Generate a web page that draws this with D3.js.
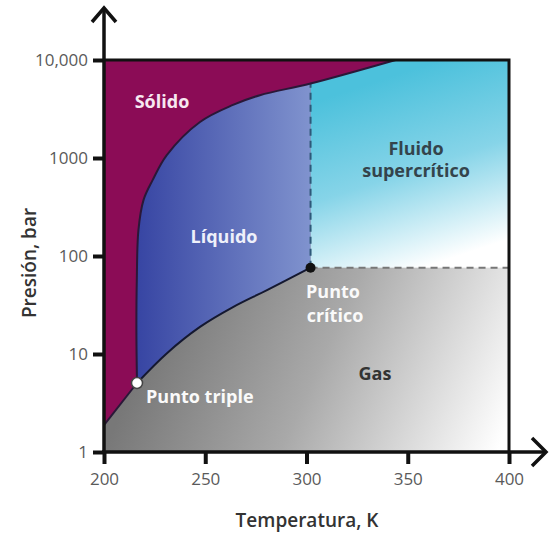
<!DOCTYPE html>
<html lang="es">
<head>
<meta charset="utf-8">
<title>Diagrama de fases</title>
<script src="https://cdn.jsdelivr.net/npm/d3@7"></script>
<style>
  body { margin: 0; background: #fff; }
  svg text { font-family: "Open Sans", "Noto Sans", sans-serif; }
  .tick-label { font-size: 17px; fill: #5a5a5a; }
  .axis-title { font-size: 19px; font-weight: 600; fill: #333; }
  .region { font-size: 18px; font-weight: 700; }
</style>
</head>
<body>
<div id="chart"></div>
<script>
// axis ticks
var tempTicks = [200, 250, 300, 350, 400];
var presTicks = [1, 10, 100, 1000, 10000];
var presLabels = ["1", "10", "100", "1000", "10,000"];

// phase boundaries (T in K, P in bar)
var sublimT = [200, 216.3];
var sublimP = [1.88, 5.06];
var meltT = [216.3, 216.0, 216.2, 217.0, 219.5, 224.0, 231.0, 247.4, 263.7, 277.0, 302.0, 344.0];
var meltP = [5.06, 17.5, 57, 184, 372, 594, 1070, 2330, 3480, 4370, 5750, 10000];
var vapT = [216.3, 231.1, 247.4, 263.7, 280.5, 302.0];
var vapP = [5.06, 10.2, 18.9, 30.1, 44.9, 76];

var triple = {T: 216.3, P: 5.06};
var critical = {T: 302.0, P: 76};

var W = 552, H = 533;
var x = d3.scaleLinear().domain([200, 400]).range([104, 509]);
var y = d3.scaleLog().domain([1, 10000]).range([452, 60]);

var svg = d3.select("#chart").append("svg")
    .attr("width", W).attr("height", H);

var defs = svg.append("defs");

function grad(id, x1, y1, x2, y2, stops) {
    var g = defs.append("linearGradient").attr("id", id)
        .attr("gradientUnits", "userSpaceOnUse")
        .attr("x1", x1).attr("y1", y1).attr("x2", x2).attr("y2", y2);
    stops.forEach(function(s) {
        g.append("stop").attr("offset", s[0]).attr("stop-color", s[1]);
    });
}
grad("gasGrad", 170, 300, 500, 445, [[0, "#787878"], [0.45, "#a9a9a9"], [1, "#ffffff"]]);
grad("scGrad", 380, 80, 440, 262, [[0, "#4cc1dc"], [0.5, "#86d4e8"], [1, "#ffffff"]]);
grad("liqGrad", x(triple.T), 0, x(critical.T), 0, [[0, "#3745a3"], [1, "#8093ce"]]);

function pts(T, P) {
    return T.map(function(t, i) { return [x(t), y(P[i])]; });
}
var curve = d3.line().curve(d3.curveCatmullRom.alpha(0.5));
var straight = d3.line();

// gas: whole plot as background
svg.append("rect")
    .attr("x", x(200)).attr("y", y(10000))
    .attr("width", x(400) - x(200)).attr("height", y(1) - y(10000))
    .attr("fill", "url(#gasGrad)");

// supercritical fluid
svg.append("rect")
    .attr("x", x(critical.T)).attr("y", y(10000))
    .attr("width", x(400) - x(critical.T)).attr("height", y(critical.P) - y(10000))
    .attr("fill", "url(#scGrad)");

// liquid (top part is covered by the solid)
var liqPath = curve(pts(vapT, vapP)) +
    "L" + x(critical.T) + "," + y(10000) +
    "L" + x(200) + "," + y(10000) +
    "L" + x(200) + "," + y(triple.P) + "Z";
svg.append("path").attr("d", liqPath).attr("fill", "url(#liqGrad)");

// solid
var meltPts = pts(meltT, meltP);
var solidPath = "M" + x(200) + "," + y(sublimP[0]) +
    "L" + x(triple.T) + "," + y(triple.P) +
    curve(meltPts).replace(/^M[^C]*/, "") +
    "L" + x(200) + "," + y(10000) + "Z";
svg.append("path").attr("d", solidPath).attr("fill", "#8b0c56");

// dashed lines from the critical point
svg.append("line")
    .attr("x1", x(critical.T)).attr("y1", y(critical.P))
    .attr("x2", x(critical.T)).attr("y2", y(meltP[10]))
    .attr("stroke", "#2e5878").attr("stroke-width", 2)
    .attr("stroke-dasharray", "7,5");
svg.append("line")
    .attr("x1", x(critical.T)).attr("y1", y(critical.P))
    .attr("x2", x(400)).attr("y2", y(critical.P))
    .attr("stroke", "#777").attr("stroke-width", 2)
    .attr("stroke-dasharray", "7,5");

// boundary curves
svg.append("path").attr("d", straight(pts(sublimT, sublimP)))
    .attr("fill", "none").attr("stroke", "#2a1838").attr("stroke-width", 2);
svg.append("path").attr("d", curve(meltPts))
    .attr("fill", "none").attr("stroke", "#2a1838").attr("stroke-width", 2);
svg.append("path").attr("d", curve(pts(vapT, vapP)))
    .attr("fill", "none").attr("stroke", "#141830").attr("stroke-width", 2);

// plot frame (top and right)
svg.append("path")
    .attr("d", "M" + x(200) + "," + y(10000) + "H" + x(400) + "V" + y(1))
    .attr("fill", "none").attr("stroke", "#111").attr("stroke-width", 3);

// axes
var yAxis = d3.axisLeft(y).tickValues(presTicks)
    .tickFormat(function(d, i) { return presLabels[i]; })
    .tickSize(11).tickPadding(5);
var gy = svg.append("g").attr("transform", "translate(" + x(200) + ",0)").call(yAxis);
var xAxis = d3.axisBottom(x).tickValues(tempTicks).tickSize(12).tickPadding(9);
var gx = svg.append("g").attr("transform", "translate(0," + y(1) + ")").call(xAxis);

[gx, gy].forEach(function(g) {
    g.select(".domain").remove();
    g.selectAll(".tick line").attr("stroke", "#111").attr("stroke-width", 4);
    g.selectAll(".tick text").attr("class", "tick-label").attr("fill", null);
});

// axis lines with arrows
svg.append("line").attr("x1", x(200)).attr("y1", y(1) + 2)
    .attr("x2", x(200)).attr("y2", 8)
    .attr("stroke", "#111").attr("stroke-width", 3.5);
svg.append("path").attr("d", "M92,22L104,8L116,22")
    .attr("fill", "none").attr("stroke", "#111").attr("stroke-width", 3.5);
svg.append("line").attr("x1", x(200) - 2).attr("y1", y(1))
    .attr("x2", 546).attr("y2", y(1))
    .attr("stroke", "#111").attr("stroke-width", 3.5);
svg.append("path").attr("d", "M532,438L546,452L532,466")
    .attr("fill", "none").attr("stroke", "#111").attr("stroke-width", 3.5);

// points
svg.append("circle").attr("cx", x(critical.T)).attr("cy", y(critical.P)).attr("r", 5)
    .attr("fill", "#111");
svg.append("circle").attr("cx", x(triple.T)).attr("cy", y(triple.P)).attr("r", 5.5)
    .attr("fill", "#fff").attr("stroke", "#444").attr("stroke-width", 1.5);

// region labels
function label(txt, tx, ty, color, anchor) {
    svg.append("text").attr("class", "region")
        .attr("x", tx).attr("y", ty)
        .attr("text-anchor", anchor || "middle")
        .attr("fill", color).text(txt);
}
label("Sólido", 162, 108, "#f7e8f1");
label("Líquido", 224, 243, "#eef0fa");
label("Fluido", 416, 155, "#34444c");
label("supercrítico", 416, 177, "#34444c");
label("Punto", 333, 298, "#fafafa");
label("crítico", 335, 322, "#fafafa");
label("Gas", 375, 380, "#333");
label("Punto triple", 146, 403, "#fafafa", "start");

// axis titles
svg.append("text").attr("class", "axis-title")
    .attr("x", 307).attr("y", 527).attr("text-anchor", "middle")
    .text("Temperatura, K");
svg.append("text").attr("class", "axis-title")
    .attr("transform", "translate(36,263) rotate(-90)")
    .attr("text-anchor", "middle")
    .text("Presión, bar");
</script>
</body>
</html>
